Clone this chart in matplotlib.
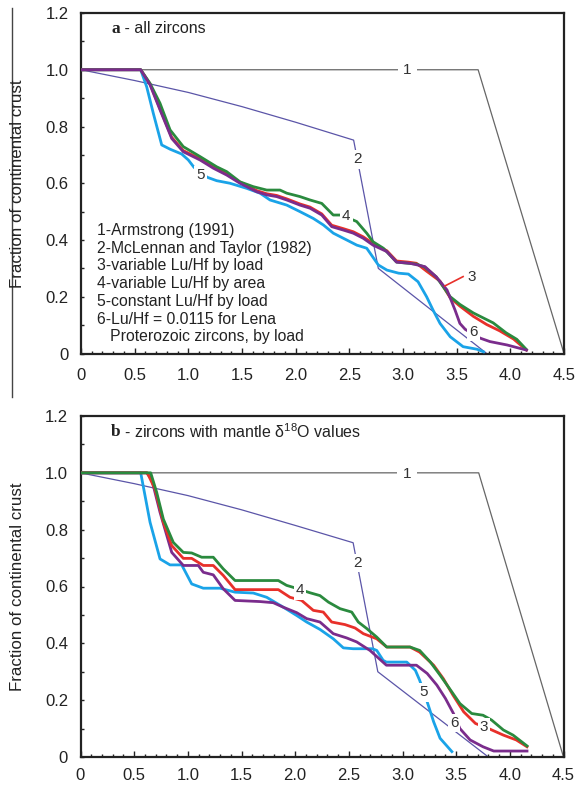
import matplotlib
matplotlib.use("Agg")
import matplotlib.pyplot as plt
from matplotlib.lines import Line2D
from matplotlib.ticker import MultipleLocator, FuncFormatter

plt.rcParams['font.family'] = ['Liberation Sans', 'DejaVu Sans']
plt.rcParams['mathtext.fontset'] = 'custom'
plt.rcParams['mathtext.rm'] = 'Liberation Sans'
plt.rcParams['mathtext.it'] = 'Liberation Sans'

# ---------------- data: panel a (all zircons) ----------------
a1_x = [0, 3.70, 4.50]
a1_y = [1.0, 1.0, 0.0]
a2_x = [0, 0.5, 1.0, 1.5, 2.0, 2.54, 2.77, 3.78]
a2_y = [1.0, 0.962, 0.92, 0.87, 0.815, 0.752, 0.30, 0.0]

a3_x = [0, 0.556, 0.643, 0.736, 0.845, 0.953, 1.109, 1.233, 1.357, 1.481, 1.637, 1.73, 1.823,
        1.917, 2.04, 2.134, 2.243, 2.336, 2.444, 2.537, 2.63, 2.72, 2.85, 2.94, 3.05, 3.125,
        3.22, 3.345, 3.44, 3.53, 3.655, 3.78, 3.9, 4.03, 4.15]
a3_y = [1.0, 1.0, 0.95, 0.862, 0.762, 0.715, 0.686, 0.657, 0.633, 0.604, 0.574, 0.563, 0.557,
        0.545, 0.527, 0.516, 0.492, 0.452, 0.44, 0.429, 0.411, 0.388, 0.362, 0.326, 0.322, 0.318,
        0.29, 0.255, 0.196, 0.167, 0.131, 0.102, 0.08, 0.051, 0.012]

a4_x = [0, 0.556, 0.643, 0.736, 0.83, 0.953, 1.109, 1.264, 1.357, 1.481, 1.605, 1.73, 1.854,
        1.917, 2.04, 2.134, 2.243, 2.35, 2.413, 2.52, 2.569, 2.662, 2.72, 2.817, 2.94, 3.125,
        3.2, 3.31, 3.44, 3.53, 3.655, 3.75, 3.84, 3.96, 4.06, 4.15]
a4_y = [1.0, 1.0, 0.952, 0.882, 0.788, 0.729, 0.694, 0.658, 0.641, 0.605, 0.588, 0.576, 0.576,
        0.565, 0.553, 0.541, 0.529, 0.488, 0.488, 0.473, 0.465, 0.424, 0.394, 0.371, 0.322, 0.315,
        0.305, 0.27, 0.2, 0.173, 0.143, 0.125, 0.108, 0.073, 0.05, 0.014]

a5_x = [0, 0.556, 0.612, 0.674, 0.752, 0.83, 0.938, 1.0, 1.053, 1.177, 1.264, 1.388, 1.544,
        1.668, 1.761, 1.917, 2.04, 2.164, 2.258, 2.351, 2.476, 2.569, 2.662, 2.77, 2.85, 2.96,
        3.05, 3.14, 3.22, 3.28, 3.345, 3.44, 3.56, 3.69, 3.75]
a5_y = [1.0, 1.0, 0.94, 0.846, 0.735, 0.72, 0.703, 0.682, 0.656, 0.621, 0.609, 0.6, 0.582,
        0.565, 0.541, 0.523, 0.5, 0.476, 0.453, 0.424, 0.4, 0.382, 0.371, 0.312, 0.294, 0.283,
        0.28, 0.253, 0.2, 0.153, 0.106, 0.059, 0.024, 0.015, 0.006]

a6_x = [0, 0.556, 0.643, 0.736, 0.845, 0.953, 1.109, 1.233, 1.357, 1.481, 1.637, 1.73, 1.823,
        1.917, 2.04, 2.134, 2.243, 2.336, 2.444, 2.537, 2.63, 2.72, 2.85, 2.94, 3.065, 3.205,
        3.31, 3.41, 3.485, 3.53, 3.58, 3.72, 3.81, 3.97, 4.15]
a6_y = [1.0, 1.0, 0.947, 0.859, 0.758, 0.711, 0.682, 0.653, 0.629, 0.6, 0.57, 0.559, 0.553,
        0.541, 0.523, 0.512, 0.488, 0.447, 0.435, 0.424, 0.406, 0.382, 0.359, 0.322, 0.318, 0.306,
        0.27, 0.224, 0.153, 0.106, 0.085, 0.054, 0.042, 0.03, 0.012]

# ---------------- data: panel b (mantle d18O zircons) ----------------
b1_x = [0, 3.71, 4.50]
b1_y = [1.0, 1.0, 0.0]
b2_x = [0, 0.5, 1.0, 1.5, 2.0, 2.54, 2.77, 3.80]
b2_y = [1.0, 0.962, 0.92, 0.87, 0.815, 0.754, 0.30, 0.0]

b3_x = [0, 0.622, 0.694, 0.772, 0.85, 0.958, 1.036, 1.144, 1.237, 1.33, 1.44, 1.642, 1.843,
        1.952, 2.06, 2.169, 2.262, 2.34, 2.464, 2.558, 2.635, 2.76, 2.853, 3.07, 3.16, 3.29,
        3.38, 3.47, 3.57, 3.68, 3.815, 3.94, 4.06, 4.16]
b3_y = [1.0, 1.0, 0.943, 0.826, 0.744, 0.699, 0.699, 0.674, 0.674, 0.639, 0.589, 0.589, 0.589,
        0.562, 0.551, 0.516, 0.51, 0.475, 0.466, 0.454, 0.434, 0.416, 0.387, 0.387, 0.369, 0.323,
        0.276, 0.218, 0.159, 0.118, 0.098, 0.077, 0.06, 0.036]

b4_x = [0, 0.654, 0.71, 0.772, 0.865, 0.958, 1.036, 1.129, 1.237, 1.33, 1.44, 1.642, 1.843,
        1.92, 2.0, 2.138, 2.231, 2.31, 2.418, 2.527, 2.588, 2.667, 2.76, 2.853, 2.977, 3.07,
        3.16, 3.26, 3.35, 3.46, 3.535, 3.645, 3.75, 3.83, 3.94, 4.03, 4.16]
b4_y = [1.0, 1.0, 0.931, 0.837, 0.755, 0.72, 0.718, 0.703, 0.703, 0.662, 0.621, 0.621, 0.621,
        0.604, 0.595, 0.578, 0.568, 0.545, 0.522, 0.51, 0.475, 0.452, 0.422, 0.387, 0.387, 0.387,
        0.375, 0.334, 0.288, 0.229, 0.188, 0.153, 0.147, 0.13, 0.095, 0.077, 0.039]

b5_x = [0, 0.561, 0.648, 0.741, 0.834, 0.943, 1.036, 1.144, 1.3, 1.44, 1.61, 1.735, 1.89,
        2.014, 2.107, 2.231, 2.355, 2.449, 2.54, 2.72, 2.76, 2.82, 2.85, 3.04, 3.12, 3.16,
        3.23, 3.29, 3.35, 3.46]
b5_y = [1.0, 1.0, 0.826, 0.697, 0.676, 0.676, 0.609, 0.594, 0.594, 0.58, 0.577, 0.562, 0.527,
        0.498, 0.475, 0.449, 0.416, 0.384, 0.381, 0.381, 0.375, 0.34, 0.334, 0.334, 0.305, 0.27,
        0.194, 0.124, 0.066, 0.019]

b6_x = [0, 0.616, 0.663, 0.741, 0.85, 0.958, 1.098, 1.144, 1.237, 1.33, 1.44, 1.672, 1.796,
        1.89, 2.014, 2.107, 2.231, 2.355, 2.48, 2.573, 2.697, 2.85, 3.13, 3.23, 3.32, 3.40,
        3.475, 3.535, 3.63, 3.75, 3.85, 4.16]
b6_y = [1.0, 1.0, 0.978, 0.861, 0.72, 0.674, 0.674, 0.65, 0.641, 0.592, 0.551, 0.547, 0.543,
        0.527, 0.508, 0.487, 0.475, 0.434, 0.419, 0.405, 0.375, 0.323, 0.323, 0.294, 0.253, 0.206,
        0.153, 0.1, 0.06, 0.036, 0.021, 0.021]

legend_lines = ["1-Armstrong (1991)", "2-McLennan and Taylor (1982)", "3-variable Lu/Hf by load",
                "4-variable Lu/Hf by area", "5-constant Lu/Hf by load", "6-Lu/Hf = 0.0115 for Lena",
                "   Proterozoic zircons, by load"]
xticks = [0, 0.5, 1.0, 1.5, 2.0, 2.5, 3.0, 3.5, 4.0, 4.5]
yticks = [0, 0.2, 0.4, 0.6, 0.8, 1.0, 1.2]

C1, C2 = '#666666', '#5b55a8'
C3, C4, C5, C6 = '#e8302a', '#2a8a3e', '#1aa3e8', '#7a2c8c'
LBL = '#333333'

W, H = 577, 788
fig = plt.figure(figsize=(W / 100, H / 100), dpi=100)

def fx(px):
    return px / W

def fy(py):
    return 1 - py / H

ax_a = fig.add_axes([fx(81), fy(353.5), (564 - 81) / W, (353.5 - 13) / H])
ax_b = fig.add_axes([fx(80.5), fy(757), (563.5 - 80.5) / W, (757 - 416) / H])

def fmt(v, pos):
    if abs(v) < 1e-9:
        return "0"
    return "%.1f" % v

def style(ax, xpad):
    ax.set_xlim(0, 4.5)
    ax.set_ylim(0, 1.2)
    ax.set_xticks(xticks)
    ax.set_yticks(yticks)
    ax.xaxis.set_minor_locator(MultipleLocator(0.1))
    ax.yaxis.set_minor_locator(MultipleLocator(0.1))
    ax.xaxis.set_major_formatter(FuncFormatter(fmt))
    ax.yaxis.set_major_formatter(FuncFormatter(fmt))
    ax.tick_params(which='both', direction='in', top=False, right=False, width=1.0, color='#222222')
    ax.tick_params(which='major', length=4.5, labelsize=12, labelcolor='#222222')
    ax.tick_params(axis='x', which='major', pad=xpad)
    ax.tick_params(axis='y', which='major', length=2.5, pad=9)
    ax.tick_params(which='minor', length=2.5)
    for s in ax.spines.values():
        s.set_linewidth(1.6)
        s.set_color('#222222')

def lab(ax, x, y, s):
    ax.text(x, y, s, fontsize=11, color=LBL, ha='center', va='center', zorder=6,
            bbox=dict(fc='white', ec='none', pad=1.5))

thin = 0.9
thick = 2.0

# panel a
ax = ax_a
style(ax, 10.5)
ax.plot(a1_x, a1_y, color=C1, lw=thin, zorder=2)
ax.plot(a2_x, a2_y, color=C2, lw=thin, zorder=2)
ax.plot(a5_x, a5_y, color=C5, lw=thick, zorder=3)
ax.plot(a3_x, a3_y, color=C3, lw=thick, zorder=3)
ax.plot(a4_x, a4_y, color=C4, lw=thick, zorder=4)
ax.plot(a6_x, a6_y, color=C6, lw=thick, zorder=5)
ax.text(3.04, 1.0, "1", fontsize=11, color=LBL, ha='center', va='center', zorder=6,
        bbox=dict(fc='white', ec='none', pad=4))
lab(ax, 2.575, 0.684, "2")
lab(ax, 1.115, 0.628, "5")
lab(ax, 2.47, 0.485, "4")
lab(ax, 3.66, 0.075, "6")
ax.plot([3.39, 3.56], [0.238, 0.271], color=C3, lw=1.2, zorder=6)
ax.text(3.64, 0.27, "3", fontsize=11, color=LBL, ha='center', va='center', zorder=6)
t = ax.text(0.28, 1.145, "a", fontsize=12.5, fontweight='bold', family='Liberation Serif',
            ha='left', va='center', color='#222222')
ax.annotate(" - all zircons", xy=(1, 0.5), xycoords=t, va='center', ha='left',
            fontsize=11.5, color='#222222')
ly0 = 0.433
for i, s in enumerate(legend_lines):
    ax.text(0.152, ly0 - i * 0.0623, s, fontsize=11.3, color='#222222', ha='left', va='center')

# panel b
ax = ax_b
style(ax, 8)
ax.plot(b1_x, b1_y, color=C1, lw=thin, zorder=2)
ax.plot(b2_x, b2_y, color=C2, lw=thin, zorder=2)
ax.plot(b5_x, b5_y, color=C5, lw=thick, zorder=3)
ax.plot(b6_x, b6_y, color=C6, lw=thick, zorder=3)
ax.plot(b3_x, b3_y, color=C3, lw=thick, zorder=4)
ax.plot(b4_x, b4_y, color=C4, lw=thick, zorder=5)
ax.text(3.04, 0.995, "1", fontsize=11, color=LBL, ha='center', va='center', zorder=6,
        bbox=dict(fc='white', ec='none', pad=4))
lab(ax, 2.579, 0.683, "2")
lab(ax, 2.045, 0.586, "4")
lab(ax, 3.20, 0.227, "5")
lab(ax, 3.48, 0.12, "6")
lab(ax, 3.76, 0.104, "3")
t = ax.text(0.28, 1.145, "b", fontsize=12.5, fontweight='bold', family='Liberation Serif',
            ha='left', va='center', color='#222222')
ax.annotate(r" - zircons with mantle δ$^{18}$O values", xy=(1, 0.5), xycoords=t, va='center',
            ha='left', fontsize=11.5, color='#222222')

for a in (ax_a, ax_b):
    pos = a.get_position()
    fig.text(fx(18), (pos.y0 + pos.y1) / 2, "Fraction of continental crust", rotation=90,
             fontsize=12.2, color='#222222', ha='center', va='center')

fig.add_artist(Line2D([fx(12.3), fx(12.3)], [fy(8), fy(397)], color='#444444', lw=1.0))

fig.savefig("out.png", dpi=100)
